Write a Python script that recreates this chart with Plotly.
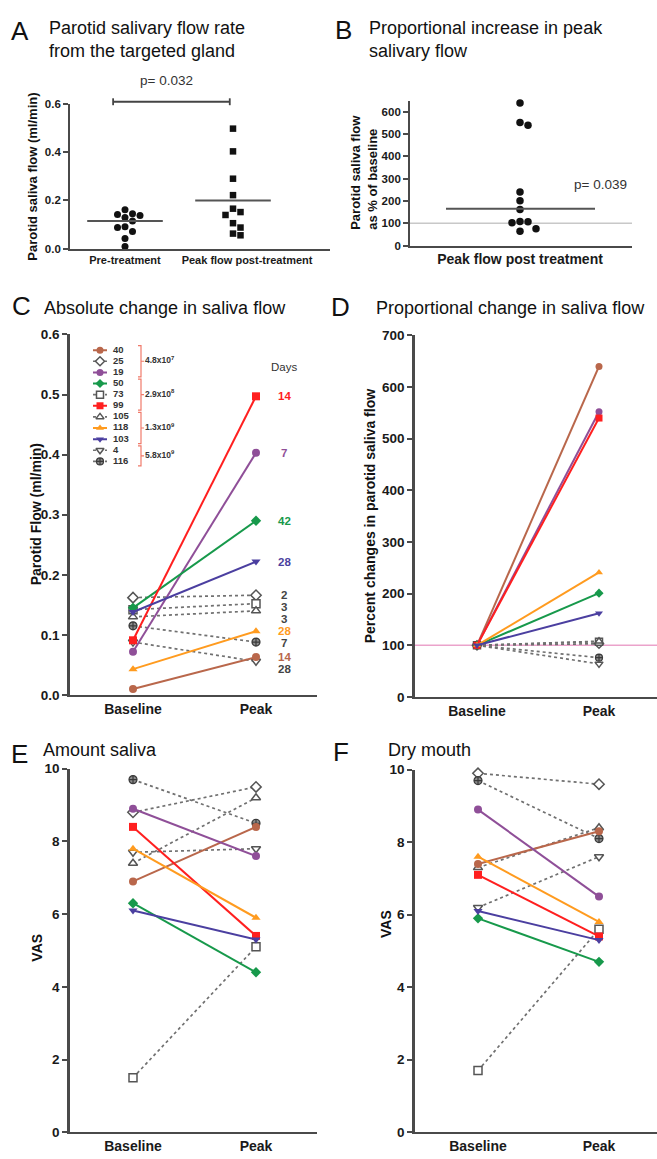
import plotly.graph_objects as go

W, H = 657, 1159
FONT = "Liberation Sans, Arial, Helvetica, sans-serif"
AX = "#4a4a4a"

# ---------------- data ----------------
patient_ids = ["40", "25", "19", "50", "73", "99", "105", "118", "103", "4", "116"]
dose_labels = ["4.8x10<sup>7</sup>", "2.9x10<sup>8</sup>", "1.3x10<sup>9</sup>", "5.8x10<sup>9</sup>"]
dose_members = [["40", "25", "19"], ["50", "73", "99"], ["105", "118", "103"], ["4", "116"]]
pair_categories = ["Baseline", "Peak"]

flow_baseline = [0.010, 0.162, 0.072, 0.145, 0.142, 0.091, 0.130, 0.043, 0.138, 0.088, 0.115]
flow_peak = [0.063, 0.166, 0.403, 0.290, 0.152, 0.497, 0.140, 0.106, 0.222, 0.056, 0.088]
peak_days = ["14", "2", "7", "42", "3", "14", "3", "28", "28", "28", "7"]
pct_baseline = [100, 100, 100, 100, 100, 100, 100, 100, 100, 100, 100]
pct_peak = [640, 103, 552, 201, 107, 540, 108, 241, 162, 64, 76]
amount_baseline = [6.9, 8.8, 8.9, 6.3, 1.5, 8.4, 7.4, 7.8, 6.1, 7.7, 9.7]
amount_peak = [8.4, 9.5, 7.6, 4.4, 5.1, 5.4, 9.2, 5.9, 5.3, 7.8, 8.5]
dry_baseline = [7.4, 9.9, 8.9, 5.9, 1.7, 7.1, 7.3, 7.6, 6.1, 6.2, 9.7]
dry_peak = [8.3, 9.6, 6.5, 4.7, 5.6, 5.4, 8.4, 5.8, 5.3, 7.6, 8.1]

a_categories = ["Pre-treatment", "Peak flow post-treatment"]
a_group_lines = [0.115, 0.200]
a_pvalue = "p= 0.032"
b_category = ["Peak flow post treatment"]
b_group_line = 165
b_reference = 100
b_pvalue = "p= 0.039"
d_reference = 100

# ---------------- styles ----------------
series_color = ["#B9674B", "#6e6e6e", "#8F4F98", "#17994B", "#6e6e6e", "#FF1F1F",
                "#6e6e6e", "#FF9B1F", "#4B3FA0", "#6e6e6e", "#6e6e6e"]
series_symbol = ["circle", "diamond", "circle", "diamond", "square", "square",
                 "triangle-up", "triangle-up", "triangle-down", "triangle-down", "circle-cross"]
series_open = [False, True, False, False, True, False, True, False, False, True, True]
draw_order = [i for i in range(11) if series_open[i]] + [i for i in range(11) if not series_open[i]]


def marker_for(i, size):
    if series_open[i]:
        if series_symbol[i] == "circle-cross":
            return dict(symbol="circle-cross", size=size, color="#8c8c8c",
                        line=dict(color="#3a3a3a", width=1.2))
        return dict(symbol=series_symbol[i], size=size, color="white",
                    line=dict(color="#555555", width=1.5))
    return dict(symbol=series_symbol[i], size=size, color=series_color[i], line=dict(width=0))


def line_for(i):
    if series_open[i]:
        return dict(color="#707070", width=1.7, dash="dot")
    return dict(color=series_color[i], width=2)


fig = go.Figure()


def paired(xa, ya, base, peak, size):
    for i in draw_order:
        fig.add_trace(go.Scatter(x=[0, 1], y=[base[i], peak[i]], mode="lines+markers",
                                 line=line_for(i), marker=marker_for(i, size),
                                 xaxis=xa, yaxis=ya, cliponaxis=False,
                                 showlegend=False, hoverinfo="skip"))


def swarm(values, ypx, xpx, diam):
    order = sorted(range(len(values)), key=lambda k: -values[k])
    placed = []
    offs = [0.0] * len(values)
    for k in order:
        y = values[k] * ypx
        cands = [0]
        for j in range(1, 8):
            cands += [j * diam, -j * diam]
        chosen = 0
        for c in cands:
            if all((c - px) ** 2 + (y - py) ** 2 >= (diam * 0.95) ** 2 for px, py in placed):
                chosen = c
                break
        placed.append((chosen, y))
        offs[k] = chosen / xpx
    return offs


# ---------------- panel A ----------------
a_ypx = 147 / 0.6
a_xpx = 108
off_pre = swarm(flow_baseline, a_ypx, a_xpx, 7.5)
off_peak = swarm(flow_peak, a_ypx, a_xpx, 7.5)
fig.add_trace(go.Scatter(x=[0 + o for o in off_pre], y=flow_baseline, mode="markers",
                         marker=dict(symbol="circle", size=7, color="#111111"),
                         xaxis="x", yaxis="y", cliponaxis=False, showlegend=False, hoverinfo="skip"))
fig.add_trace(go.Scatter(x=[1 + o for o in off_peak], y=flow_peak, mode="markers",
                         marker=dict(symbol="square", size=6.5, color="#111111"),
                         xaxis="x", yaxis="y", cliponaxis=False, showlegend=False, hoverinfo="skip"))

# ---------------- panel B ----------------
b_ypx = 146.9 / 650
off_b = swarm(pct_peak, b_ypx, 100, 8)
fig.add_trace(go.Scatter(x=off_b, y=pct_peak, mode="markers",
                         marker=dict(symbol="circle", size=7.5, color="#111111"),
                         xaxis="x2", yaxis="y2", cliponaxis=False, showlegend=False, hoverinfo="skip"))

# ---------------- panels C-F ----------------
paired("x3", "y3", flow_baseline, flow_peak, 8)
paired("x4", "y4", pct_baseline, pct_peak, 7)
paired("x5", "y5", amount_baseline, amount_peak, 8)
paired("x6", "y6", dry_baseline, dry_peak, 8)

# ---------------- legend in C (own hidden axes) ----------------
for i in range(11):
    fig.add_trace(go.Scatter(x=[3, 17], y=[i, i], mode="lines", line=line_for(i),
                             xaxis="x7", yaxis="y7", cliponaxis=False,
                             showlegend=False, hoverinfo="skip"))
    fig.add_trace(go.Scatter(x=[10], y=[i], mode="markers", marker=marker_for(i, 7),
                             xaxis="x7", yaxis="y7", cliponaxis=False,
                             showlegend=False, hoverinfo="skip"))
fig.add_trace(go.Scatter(x=[23] * 11, y=list(range(11)), mode="text", text=patient_ids,
                         textposition="middle right",
                         textfont=dict(family=FONT, size=9.5, color="#333333", weight="bold"),
                         xaxis="x7", yaxis="y7", cliponaxis=False, showlegend=False, hoverinfo="skip"))
br_y = []
shapes = []
for members in dose_members:
    idx = [patient_ids.index(m) for m in members]
    y0, y1 = min(idx) - 0.4, max(idx) + 0.4
    ym = (y0 + y1) / 2
    br_y.append(ym)
    shapes.append(dict(type="path", xref="x7", yref="y7",
                       path=f"M 48,{y0} L 51,{y0} L 51,{y1} L 48,{y1} M 51,{ym} L 54,{ym}",
                       line=dict(color="#F07A6A", width=1.2)))
fig.add_trace(go.Scatter(x=[55] * len(dose_labels), y=br_y, mode="text", text=dose_labels,
                         textposition="middle right",
                         textfont=dict(family=FONT, size=8.5, color="#333333", weight="bold"),
                         xaxis="x7", yaxis="y7", cliponaxis=False, showlegend=False, hoverinfo="skip"))

# ---------------- shapes ----------------
for k in range(2):
    shapes.append(dict(type="line", xref="x", yref="y", x0=k - 0.35, x1=k + 0.35,
                       y0=a_group_lines[k], y1=a_group_lines[k], line=dict(color="#555555", width=2)))
yb = 1 - 96 / H
cap = 3.5 / H
for xx in (-0.11, 0.97):
    shapes.append(dict(type="line", xref="x", yref="paper", x0=xx, x1=xx, y0=yb - cap, y1=yb + cap,
                       line=dict(color="#444444", width=1.8)))
shapes.append(dict(type="line", xref="x", yref="paper", x0=-0.11, x1=0.97, y0=yb, y1=yb,
                   line=dict(color="#444444", width=1.8)))
shapes.append(dict(type="line", xref="x2 domain", yref="y2", x0=0, x1=1, y0=b_reference, y1=b_reference,
                   line=dict(color="#C8C8C8", width=1.5), layer="below"))
shapes.append(dict(type="line", xref="x2", yref="y2", x0=-0.74, x1=0.75, y0=b_group_line, y1=b_group_line,
                   line=dict(color="#555555", width=2)))
shapes.append(dict(type="line", xref="x4 domain", yref="y4", x0=0, x1=1, y0=d_reference, y1=d_reference,
                   line=dict(color="#EBA3CB", width=1.5), layer="below"))

# ---------------- annotations ----------------
anns = []


def ann(text, x, y, size, bold=False, xanchor="left", color="#111111", angle=0, yanchor="middle"):
    anns.append(dict(text=text, x=x / W, y=1 - y / H, xref="paper", yref="paper",
                     xanchor=xanchor, yanchor=yanchor, showarrow=False, textangle=angle, align="left",
                     font=dict(family=FONT, size=size, color=color, weight="bold" if bold else "normal")))


for letter, lx, ly in [("A", 20, 24), ("B", 343, 23), ("C", 21, 303), ("D", 340, 304), ("E", 19, 757), ("F", 341, 755)]:
    ann(letter, lx, ly, 26, xanchor="center")
ann("Parotid salivary flow rate<br>from the targeted gland", 47, 33, 18)
ann("Proportional increase in peak<br>salivary flow", 367, 33, 18)
ann("Absolute change in saliva flow", 42, 305, 18)
ann("Proportional change in saliva flow", 374, 305, 18)
ann("Amount saliva", 41, 753, 18)
ann("Dry mouth", 386, 753, 18)
ann(a_pvalue, 166, 74, 13.5, xanchor="center", color="#333333")
ann(b_pvalue, 600, 180, 13.5, xanchor="center", color="#333333")
ann("Parotid saliva flow (ml/min)", 33, 172, 13, bold=True, xanchor="center", angle=-90)
ann("Parotid saliva flow<br>as % of baseline", 364, 168, 13, bold=True, xanchor="center", angle=-90)
ann("Parotid Flow (ml/min)", 36, 514, 14, bold=True, xanchor="center", angle=-90)
ann("Percent changes in parotid saliva flow", 370, 516, 14, bold=True, xanchor="center", angle=-90)
ann("VAS", 37, 953, 14, bold=True, xanchor="center", angle=-90)
ann("VAS", 386, 929, 14, bold=True, xanchor="center", angle=-90)

# day labels in C, pushed downward where they would overlap
anns.append(dict(text="Days", x=1.23, y=0.545, xref="x3", yref="y3", showarrow=False,
                 xanchor="center", font=dict(family=FONT, size=11.5, color="#333333")))
prev = 1e9
for k in sorted(range(11), key=lambda k: -flow_peak[k]):
    yl = min(flow_peak[k], prev - 0.02)
    prev = yl
    anns.append(dict(text=peak_days[k], x=1.23, y=yl, xref="x3", yref="y3", showarrow=False,
                     xanchor="center", yanchor="middle",
                     font=dict(family=FONT, size=11.5, color=series_color[k] if not series_open[k] else "#444444",
                               weight="bold")))


# ---------------- axes ----------------
def xaxis(left, right, c0, c1, ticktext, size, anchor, ticks=""):
    u = c1 - c0
    return dict(domain=[left / W, right / W], range=[(left - c0) / u, 1 + (right - c1) / u],
                anchor=anchor, tickvals=list(range(len(ticktext))), ticktext=ticktext,
                showline=True, linecolor=AX, linewidth=2, ticks=ticks, ticklen=4, tickwidth=1.5, tickcolor=AX,
                tickfont=dict(family=FONT, size=size, color="#1a1a1a", weight="bold"),
                showgrid=False, zeroline=False, fixedrange=True)


def yaxis(top, bottom, rng, tickvals, fmt, size, anchor, lw=2):
    return dict(domain=[1 - bottom / H, 1 - top / H], range=rng, anchor=anchor, tickvals=tickvals,
                tickformat=fmt, showline=True, linecolor=AX, linewidth=lw, ticks="outside", ticklen=5,
                tickwidth=1.5, tickcolor=AX,
                tickfont=dict(family=FONT, size=size, color="#1a1a1a", weight="bold"),
                showgrid=False, zeroline=False, fixedrange=True)


xa = xaxis(70, 330, 125, 233, a_categories, 11, "y")
xa["tickvals"] = [0, 1.13]

xb = xaxis(410, 632, 0, 1, b_category, 14, "y2")
xb["range"] = [-1.10, 1.12]

fig.update_layout(
    width=W, height=H, margin=dict(l=0, r=0, t=0, b=0),
    paper_bgcolor="white", plot_bgcolor="white", showlegend=False,
    xaxis=xa,
    yaxis=yaxis(98, 245, [0, 0.6], [0, 0.2, 0.4, 0.6], ".1f", 11.5, "x", lw=1.8),
    xaxis2=xb,
    yaxis2=yaxis(95, 241.7, [0, 650], [0, 100, 200, 300, 400, 500, 600], "d", 11.5, "x2", lw=1.8),
    xaxis3=xaxis(70, 317, 133, 256, pair_categories, 14, "y3"),
    yaxis3=yaxis(331.7, 697, [0, 0.6], [0, 0.1, 0.2, 0.3, 0.4, 0.5, 0.6], ".1f", 13.5, "x3", lw=2.5),
    xaxis4=xaxis(415, 657, 477, 599, pair_categories, 14, "y4"),
    yaxis4=yaxis(332.7, 699, [0, 700], [0, 100, 200, 300, 400, 500, 600, 700], "d", 13.5, "x4", lw=2.5),
    xaxis5=xaxis(70, 317, 133, 256, pair_categories, 14, "y5"),
    yaxis5=yaxis(771.7, 1140, [0, 10], [0, 2, 4, 6, 8, 10], "d", 13.5, "x5", lw=2.5),
    xaxis6=xaxis(415, 657, 478, 599, pair_categories, 14, "y6"),
    yaxis6=yaxis(772.7, 1140, [0, 10], [0, 2, 4, 6, 8, 10], "d", 13.5, "x6", lw=2.5),
    xaxis7=dict(domain=[90 / W, 200 / W], range=[0, 110], anchor="y7", visible=False, fixedrange=True),
    yaxis7=dict(domain=[1 - 466 / H, 1 - 342 / H], range=[10.5, -0.5], anchor="x7", visible=False, fixedrange=True),
    shapes=shapes,
    annotations=anns,
)

fig.write_html("out.html", config={"displayModeBar": False},
               post_script="document.body.style.margin='0';document.body.style.overflow='hidden';")
